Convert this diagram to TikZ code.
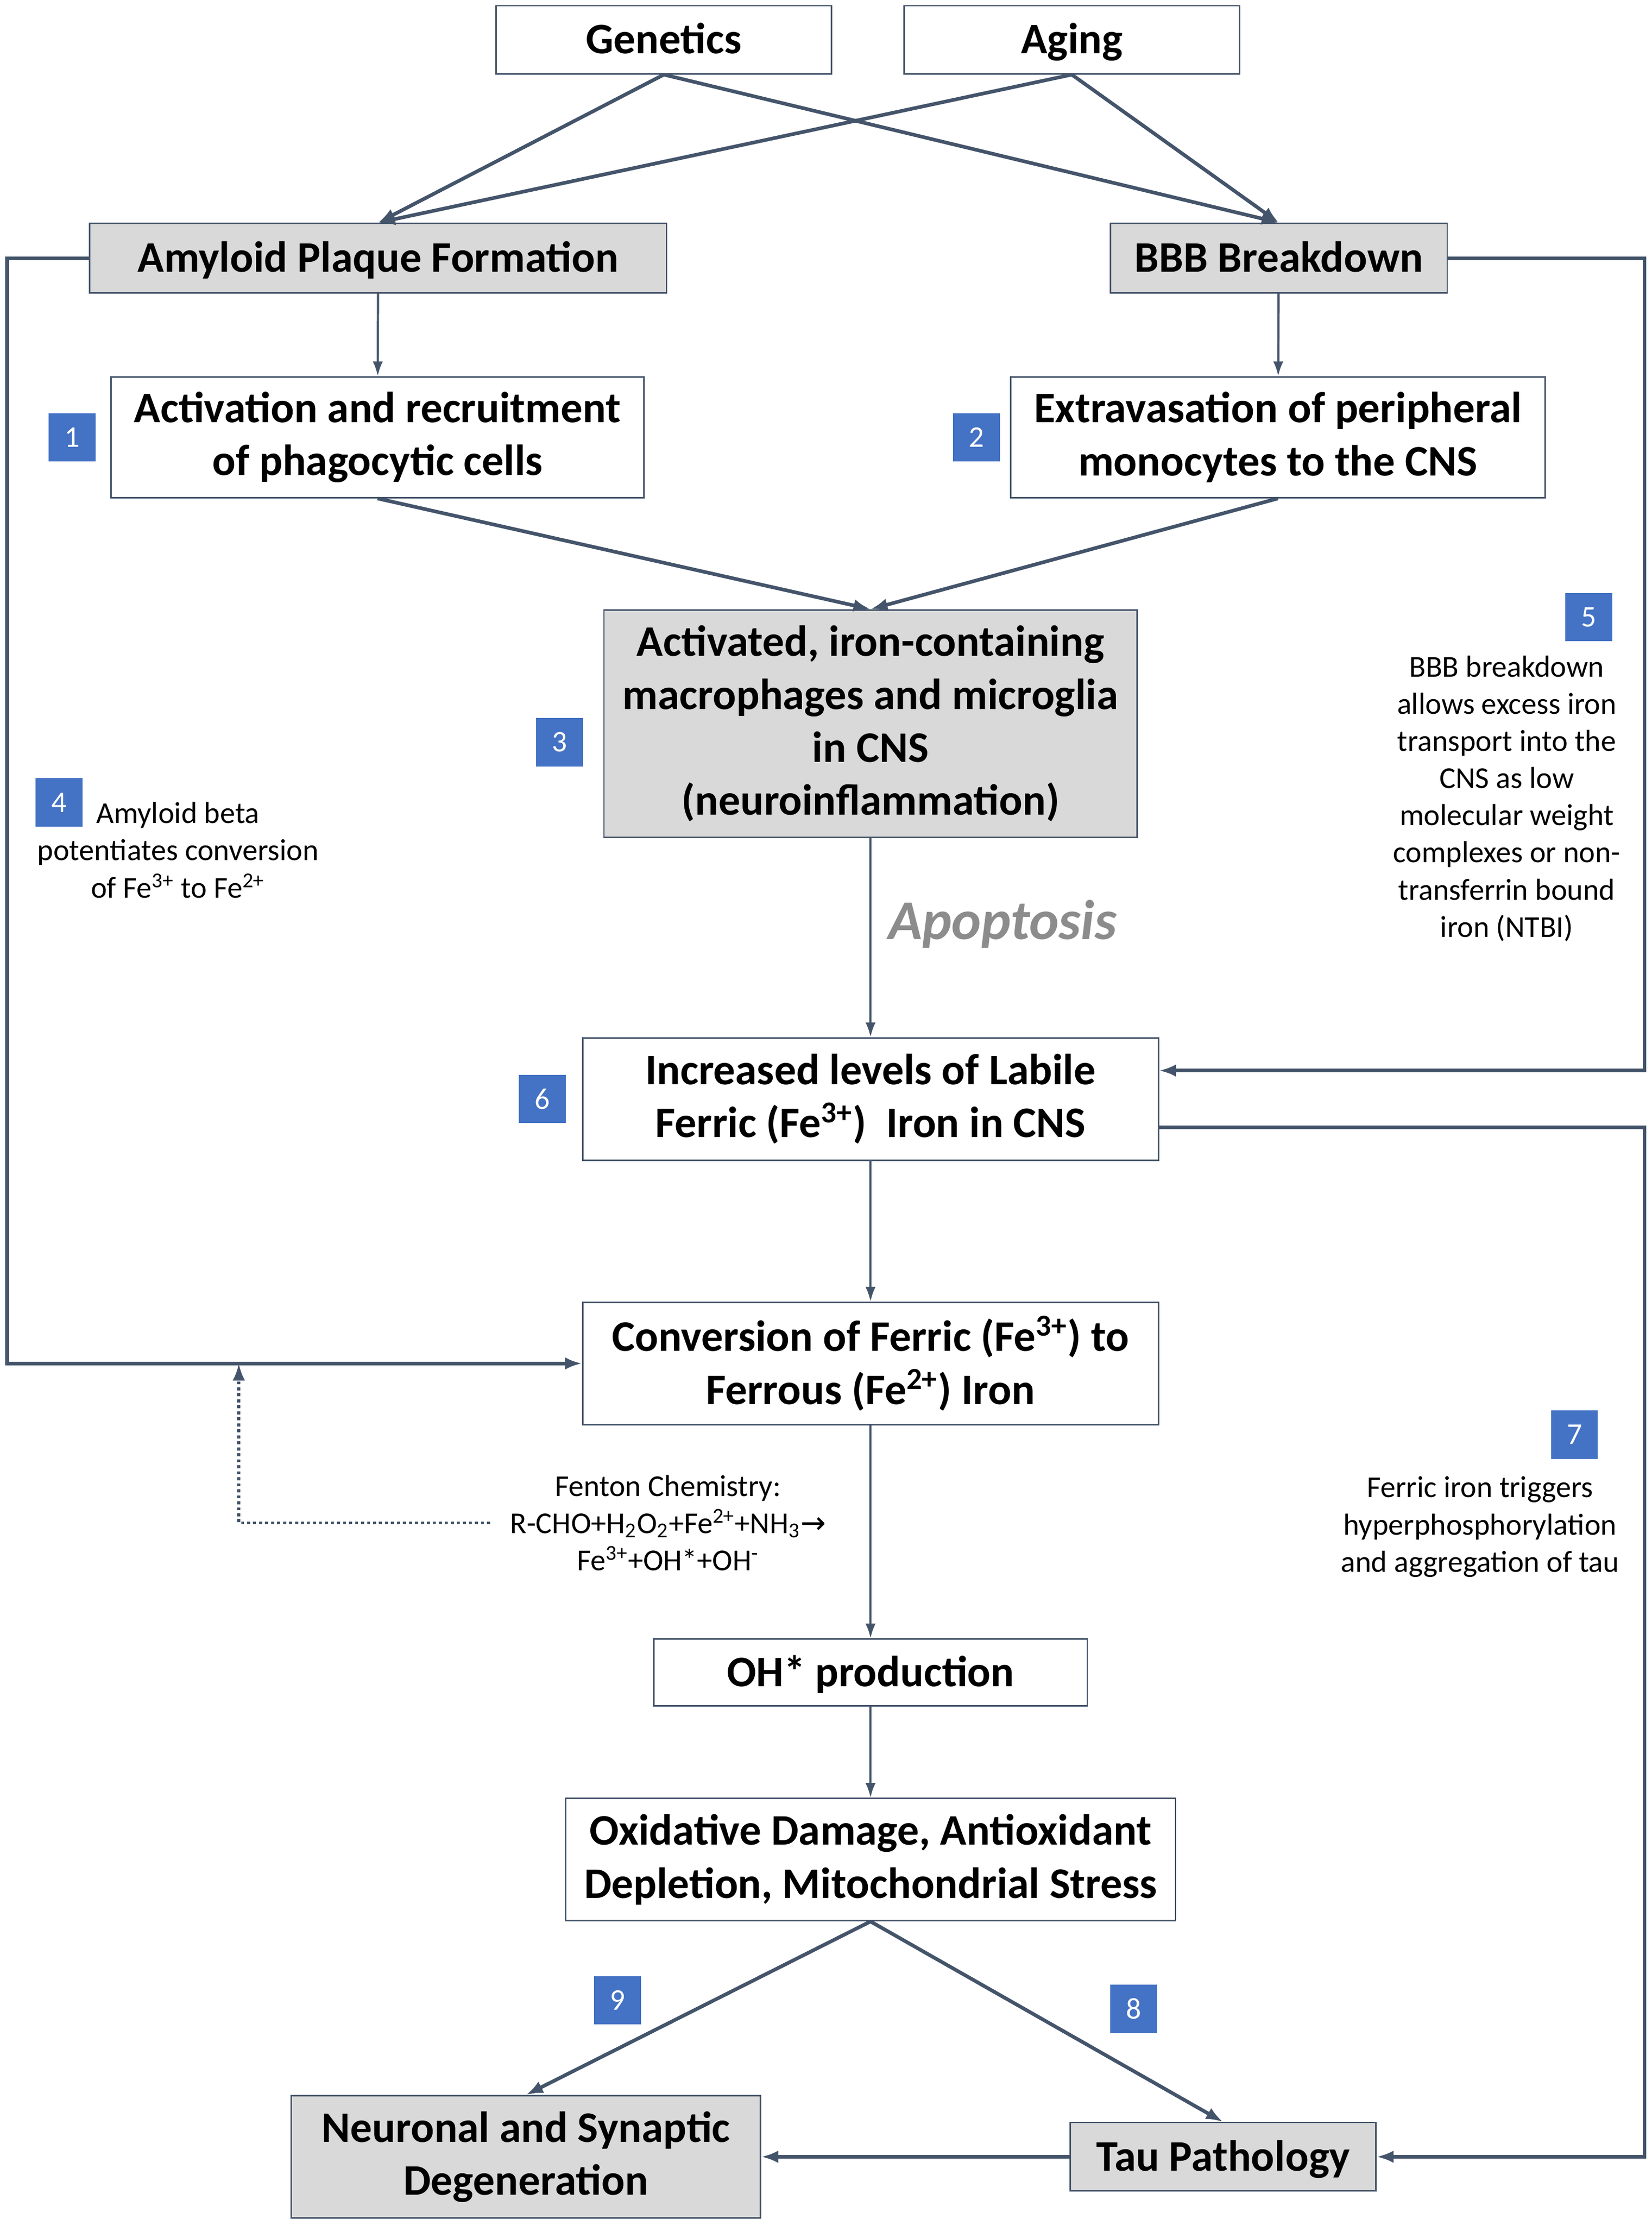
\documentclass[tikz,border=0pt]{standalone}
\usepackage{fontspec}
\setmainfont{Carlito}
\newfontfamily\symfont{DejaVu Sans}
\usetikzlibrary{positioning, arrows.meta}
\definecolor{linecol}{HTML}{44546A}
\definecolor{boxgray}{HTML}{D9D9D9}
\definecolor{badgeblue}{HTML}{4472C4}
\definecolor{apogray}{HTML}{8C8C8C}
\tikzset{
  box1/.style = {
    shape = rectangle,
    draw = linecol,
    line width = 0.7pt,
    align = center,
    inner sep = 0pt,
    font = \fontsize{21.8}{26.5}\selectfont\bfseries,
  }
}
\tikzset{
  boxg/.style = {box1, fill = boxgray},
  oneline/.style = {text height = 14pt, text depth = 0pt},
}
\tikzset{
  badge/.style = {
    shape = rectangle,
    fill = badgeblue,
    text = white,
    minimum width = 0.825cm,
    minimum height = 0.85cm,
    inner sep = 0pt,
    font = \fontsize{15}{18}\selectfont,
  }
}
\tikzset{
  note1/.style = {
    align = center,
    inner sep = 0pt,
    font = \fontsize{15.2}{18.6}\selectfont,
  }
}
\tikzset{
  arrow1/.style = {
    draw = linecol, line width = 1.1pt, -{Latex[length = 2.6mm, width = 1.8mm]},
  },
  arrow2/.style = {
    draw = linecol, line width = 1.8pt, -{Latex[length = 3mm, width = 2.2mm]},
  },
  dot1/.style = {
    draw = linecol, line width = 1.5pt, dash pattern = on 1.5pt off 1.5pt,
    -{Latex[length = 3mm, width = 2.2mm]},
  }
}

\begin{document}
\begin{tikzpicture}
        \useasboundingbox (0,0) rectangle (29.05,-39.125);
        % boxes
        \node[box1, oneline, minimum width = 5.9cm, minimum height = 1.2cm] (gen) at (11.675,-0.7) {Genetics};
        \node[box1, oneline, minimum width = 5.9cm, minimum height = 1.2cm] (aging) at (18.85,-0.7) {Aging};
        \node[boxg, oneline, minimum width = 10.15cm, minimum height = 1.225cm] (amyloid) at (6.65,-4.54) {Amyloid Plaque Formation};
        \node[boxg, oneline, minimum width = 5.925cm, minimum height = 1.225cm] (bbb) at (22.49,-4.54) {BBB Breakdown};
        \node[box1, minimum width = 9.375cm, minimum height = 2.125cm] (activ) at (6.64,-7.69) {Activation and recruitment\\of phagocytic cells};
        \node[box1, minimum width = 9.4cm, minimum height = 2.125cm] (extrav) at (22.475,-7.69) {Extravasation of peripheral\\monocytes to the CNS};
        \node[boxg, minimum width = 9.375cm, minimum height = 4cm] (macro) at (15.31,-12.725) {Activated, iron-containing\\macrophages and microglia\\in CNS\\(neuroinflammation)};
        \node[box1, minimum width = 10.125cm, minimum height = 2.15cm] (labile) at (15.31,-19.325) {Increased levels of Labile\\Ferric (Fe\textsuperscript{3+})\ \ Iron in CNS};
        \node[box1, minimum width = 10.125cm, minimum height = 2.15cm] (conv) at (15.31,-23.975) {Conversion of Ferric (Fe\textsuperscript{3+}) to\\Ferrous (Fe\textsuperscript{2+}) Iron};
        \node[box1, oneline, minimum width = 7.625cm, minimum height = 1.175cm] (ohprod) at (15.31,-29.41) {OH* production};
        \node[box1, minimum width = 10.725cm, minimum height = 2.15cm] (oxid) at (15.31,-32.7) {Oxidative Damage, Antioxidant\\Depletion, Mitochondrial Stress};
        \node[boxg, minimum width = 8.25cm, minimum height = 2.15cm] (neuro) at (9.25,-37.925) {Neuronal and Synaptic\\Degeneration};
        \node[boxg, oneline, minimum width = 5.375cm, minimum height = 1.2cm] (tau) at (21.51,-37.925) {Tau Pathology};
        % numbered badges
        \node[badge, left = 2.5mm of activ] (b1) {1};
        \node[badge, left = 1.7mm of extrav] (b2) {2};
        \node[badge, left = 3.5mm of macro, yshift = -3.25mm] (b3) {3};
        \node[badge] (b4) at (1.04,-14.11) {4};
        \node[badge] (b5) at (27.94,-10.85) {5};
        \node[badge, left = 2.8mm of labile] (b6) {6};
        \node[badge] (b7) at (27.69,-25.225) {7};
        \node[badge] (b8) at (19.94,-35.325) {8};
        \node[badge] (b9) at (10.86,-35.175) {9};
        % notes
        \node[note1] (note4) at (3.13,-14.95) {Amyloid beta\\potentiates conversion\\of Fe\textsuperscript{3+} to Fe\textsuperscript{2+}};
        \node[note1] (note5) at (26.5,-14.04) {BBB breakdown\\allows excess iron\\transport into the\\CNS as low\\molecular weight\\complexes or non-\\transferrin bound\\iron (NTBI)};
        \node[note1] (note7) at (26.03,-26.85) {Ferric iron triggers\\hyperphosphorylation\\and aggregation of tau};
        \node[note1] (fenton) at (11.75,-26.78) {Fenton Chemistry:\\R-CHO+H\textsubscript{2}O\textsubscript{2}+Fe\textsuperscript{2+}+NH\textsubscript{3}{\symfont →}\\Fe\textsuperscript{3+}+OH*+OH\textsuperscript{-}};
        \node[text = apogray, font = \fontsize{28}{32}\selectfont\bfseries\itshape] (apop) at (17.63,-16.25) {Apoptosis};
        % rails
        \coordinate (lrail) at (0.125,0);
        \coordinate (rail) at (28.925,0);
        \coordinate (dotx) at (4.2,0);
        % connectors
        \draw[arrow2](gen.south) -- (amyloid.north);
        \draw[arrow2](gen.south) -- (bbb.north);
        \draw[arrow2](aging.south) -- (amyloid.north);
        \draw[arrow2](aging.south) -- (bbb.north);
        \draw[arrow1](amyloid) -- (activ);
        \draw[arrow1](bbb) -- (extrav);
        \draw[arrow2](activ.south) -- (macro.north);
        \draw[arrow2](extrav.south) -- (macro.north);
        \draw[arrow1](macro) -- (labile);
        \draw[arrow1](labile) -- (conv);
        \draw[arrow1](conv) -- (ohprod);
        \draw[arrow1](ohprod) -- (oxid);
        \draw[arrow2](oxid.south) -- (neuro.north);
        \draw[arrow2](oxid.south) -- (tau.north);
        \draw[arrow2](tau) -- (neuro);
        \draw[arrow2](amyloid.west) -| (lrail |- conv.west) -- (conv.west);
        \draw[arrow2](bbb.east) -| ([yshift = 5mm]rail |- labile.east) -- ([yshift = 5mm]labile.east);
        \draw[arrow2]([yshift = -5mm]labile.east) -| (rail |- tau.east) -- (tau.east);
        \draw[dot1]([xshift = -3.5mm]fenton.west) -| (dotx |- conv.west);
    \end{tikzpicture}
\end{document}
